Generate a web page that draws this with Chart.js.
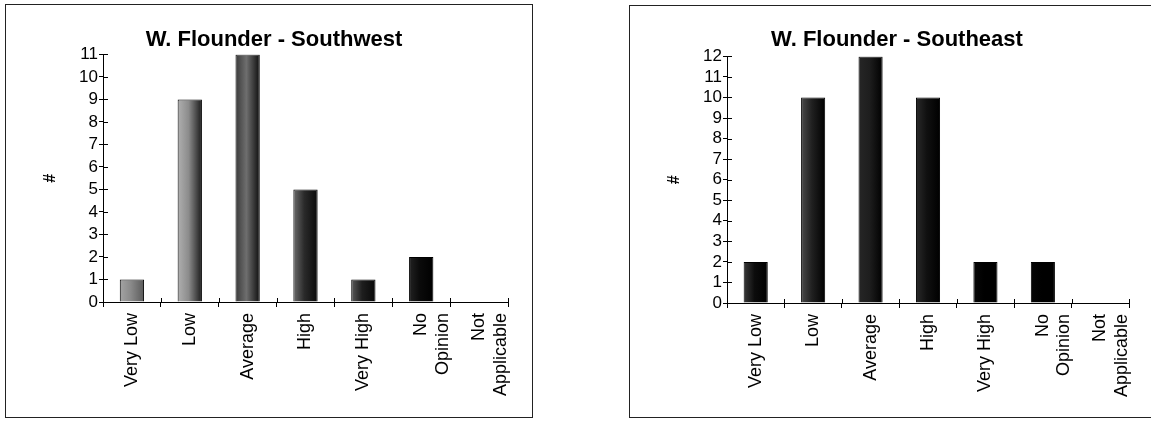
<!DOCTYPE html>
<html>
<head>
<meta charset="utf-8">
<script src="https://cdn.jsdelivr.net/npm/chart.js@4"></script>
<style>
  html, body { margin:0; padding:0; background:#fff; width:1151px; height:421px; overflow:hidden; }
  .box { position:absolute; box-sizing:border-box; }
  #boxL { left:5px; top:4px; width:528px; height:414px; border:1px solid #222; }
  #boxR { left:629px; top:5px; width:540px; height:413px; border:1px solid #222; border-right:none; }
  canvas { position:absolute; left:0; top:0; }
</style>
</head>
<body>
<div class="box" id="boxL"><canvas id="cL" width="526" height="412"></canvas></div>
<div class="box" id="boxR"><canvas id="cR" width="521" height="411"></canvas></div>
<script>
// ---- data ----
const categories = ['Very Low', 'Low', 'Average', 'High', 'Very High', ['No', 'Opinion'], ['Not', 'Applicable']];
const southwestValues = [1, 9, 11, 5, 1, 2, 0];
const southeastValues = [2, 10, 12, 10, 2, 2, 0];
const southwestMax = 11;
const southeastMax = 12;
const southwestTitle = 'W. Flounder - Southwest';
const southeastTitle = 'W. Flounder - Southeast';
const yAxisTitle = '#';

// ---- styles (left-to-right shading of each bar) ----
const southwestShades = [
  ['#a4a4a4', '#8a8a8a', '#5a5a5a'],
  ['#b0b0b0', '#8c8c8c', '#1a1a1a'],
  ['#3a3a3a', '#6e6e6e', '#0e0e0e'],
  ['#6a6a6a', '#2a2a2a', '#0a0a0a'],
  ['#5a5a5a', '#1e1e1e', '#080808'],
  ['#222222', '#0a0a0a', '#000000'],
  ['#000000', '#000000', '#000000']
];
const southeastShades = [
  ['#3a3a3a', '#0c0c0c', '#000000'],
  ['#4a4a4a', '#202020', '#000000'],
  ['#262626', '#1e1e1e', '#000000'],
  ['#2a2a2a', '#101010', '#000000'],
  ['#080808', '#000000', '#000000'],
  ['#060606', '#000000', '#000000'],
  ['#000000', '#000000', '#000000']
];
const BAR_PCT = 0.42;
const FONT = "'Liberation Sans', Arial, Helvetica, sans-serif";

function shadeFor(shades) {
  return (c) => {
    const chart = c.chart, xs = chart.scales.x;
    const s = shades[c.dataIndex] || shades[0];
    if (!xs || !chart.chartArea) return s[1];
    const cx = xs.getPixelForValue(c.dataIndex);
    const w = (xs.getPixelForValue(1) - xs.getPixelForValue(0)) * BAR_PCT;
    if (!isFinite(cx) || !isFinite(w) || w <= 0) return s[1];
    const g = chart.ctx.createLinearGradient(cx - w / 2, 0, cx + w / 2, 0);
    g.addColorStop(0, s[0]);
    g.addColorStop(0.45, s[1]);
    g.addColorStop(1, s[2]);
    return g;
  };
}

// draws the inner half of the crossing tick marks, positioned from the scales
const innerTicks = {
  id: 'innerTicks',
  afterDraw(chart) {
    const ctx = chart.ctx, x = chart.scales.x, y = chart.scales.y;
    ctx.save();
    ctx.strokeStyle = '#000';
    ctx.lineWidth = 1;
    ctx.beginPath();
    y.ticks.forEach(t => {
      const py = Math.round(y.getPixelForValue(t.value)) + 0.5;
      ctx.moveTo(y.right, py); ctx.lineTo(y.right + 5, py);
    });
    for (let i = 0; i <= x.ticks.length; i++) {
      const px = Math.round(x.getPixelForValue(i - 0.5)) + 0.5;
      ctx.moveTo(px, x.top); ctx.lineTo(px, x.top - 4);
    }
    ctx.stroke();
    ctx.restore();
  }
};

function makeChart(id, values, shades, maxV, title, pad) {
  return new Chart(document.getElementById(id), {
    type: 'bar',
    data: {
      labels: categories,
      datasets: [{
        data: values,
        backgroundColor: shadeFor(shades),
        borderColor: '#000',
        borderWidth: 1,
        barPercentage: BAR_PCT,
        categoryPercentage: 1.0
      }]
    },
    options: {
      responsive: false,
      animation: false,
      devicePixelRatio: 1,
      layout: { padding: { left: 34, right: pad.right, top: 0, bottom: 0 } },
      plugins: {
        legend: { display: false },
        tooltip: { enabled: false },
        title: {
          display: true,
          text: title,
          color: '#000',
          font: { family: FONT, size: 22, weight: 'bold' },
          padding: { top: pad.titleTop, bottom: pad.titleBottom }
        }
      },
      scales: {
        x: {
          grid: { display: true, offset: true, drawOnChartArea: false, tickLength: 5, color: '#000', lineWidth: 1 },
          border: { display: true, color: '#000', width: 1 },
          ticks: {
            color: '#000',
            font: { family: FONT, size: 18 },
            minRotation: 90, maxRotation: 90,
            autoSkip: false,
            padding: 6
          },
          afterFit(s) { s.height = pad.xHeight; }
        },
        y: {
          min: 0, max: maxV,
          grid: { display: true, drawOnChartArea: false, tickLength: 4, color: '#000', lineWidth: 1 },
          border: { display: true, color: '#000', width: 1 },
          ticks: { stepSize: 1, autoSkip: false, color: '#000', font: { family: FONT, size: 17 }, padding: 1 },
          title: {
            display: true, text: yAxisTitle, color: '#000',
            font: { family: FONT, size: 16, weight: 'bold' },
            padding: { top: 1, bottom: 0 }
          },
          afterFit(s) { s.width = 63; }
        }
      }
    },
    plugins: [innerTicks]
  });
}

makeChart('cL', southwestValues, southwestShades, southwestMax, southwestTitle,
  { right: 24, titleTop: 22, titleBottom: 1, xHeight: 115 });
makeChart('cR', southeastValues, southeastShades, southeastMax, southeastTitle,
  { right: 21, titleTop: 21, titleBottom: 3, xHeight: 114 });
</script>
</body>
</html>
